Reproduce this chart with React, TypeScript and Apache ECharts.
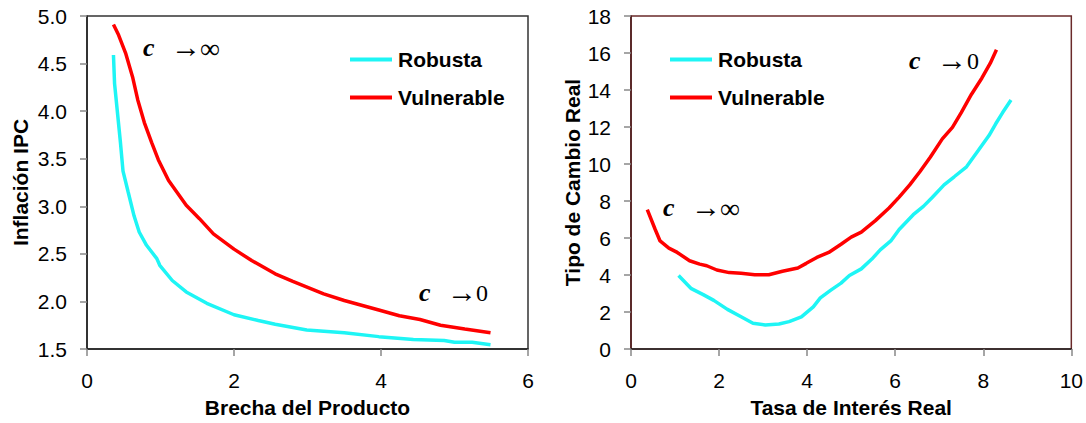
import React, { useEffect, useRef } from "react";
import * as echarts from "echarts";

// Left panel: Brecha del Producto (x) vs Inflación IPC (y)
const leftRobusta: [number, number][] = [
  [0.36, 4.59], [0.375, 4.29], [0.455, 3.67], [0.49, 3.37], [0.56, 3.15], [0.64, 2.9],
  [0.71, 2.73], [0.81, 2.59], [0.95, 2.45], [0.99, 2.38], [1.16, 2.22], [1.35, 2.1],
  [1.63, 1.98], [2.0, 1.86], [2.33, 1.8], [2.56, 1.76], [2.99, 1.7], [3.5, 1.67],
  [3.97, 1.63], [4.44, 1.6], [4.86, 1.59], [5.0, 1.57], [5.24, 1.57], [5.49, 1.545],
];
const leftVulnerable: [number, number][] = [
  [0.36, 4.91], [0.43, 4.8], [0.525, 4.61], [0.62, 4.36], [0.69, 4.12], [0.78, 3.88],
  [0.88, 3.67], [0.97, 3.49], [1.11, 3.27], [1.35, 3.01], [1.53, 2.87], [1.72, 2.71],
  [2.0, 2.55], [2.24, 2.43], [2.56, 2.29], [2.8, 2.21], [3.22, 2.08], [3.5, 2.01],
  [3.97, 1.91], [4.25, 1.85], [4.53, 1.81], [4.81, 1.75], [5.14, 1.71], [5.49, 1.67],
];

// Right panel: Tasa de Interés Real (x) vs Tipo de Cambio Real (y)
const rightRobusta: [number, number][] = [
  [1.08, 3.97], [1.37, 3.26], [1.64, 2.94], [1.88, 2.63], [2.19, 2.14], [2.5, 1.74],
  [2.77, 1.39], [3.05, 1.3], [3.36, 1.35], [3.59, 1.48], [3.87, 1.74], [4.14, 2.28],
  [4.3, 2.76], [4.53, 3.17], [4.77, 3.56], [4.96, 3.97], [5.23, 4.33], [5.47, 4.86],
  [5.66, 5.36], [5.9, 5.84], [6.09, 6.46], [6.41, 7.26], [6.64, 7.71], [6.84, 8.19],
  [7.11, 8.87], [7.34, 9.31], [7.62, 9.85], [7.89, 10.74], [8.13, 11.54], [8.28, 12.16],
  [8.44, 12.78], [8.63, 13.46],
];
const rightVulnerable: [number, number][] = [
  [0.37, 7.53], [0.55, 6.46], [0.66, 5.84], [0.86, 5.45], [1.05, 5.22], [1.33, 4.77],
  [1.56, 4.59], [1.72, 4.5], [1.95, 4.27], [2.23, 4.13], [2.5, 4.09], [2.81, 4.01],
  [3.13, 4.01], [3.44, 4.2], [3.79, 4.38], [3.98, 4.63], [4.22, 4.95], [4.49, 5.22],
  [4.77, 5.66], [5.0, 6.05], [5.23, 6.32], [5.55, 6.94], [5.86, 7.62], [6.09, 8.21],
  [6.33, 8.87], [6.56, 9.58], [6.8, 10.38], [7.07, 11.36], [7.3, 11.98], [7.5, 12.78],
  [7.73, 13.76], [7.97, 14.65], [8.16, 15.45], [8.3, 16.17],
];

const seriesNames = ["Robusta", "Vulnerable"];
const seriesColors = ["#1EF5F5", "#FF0000"];
const axisTitles = {
  leftX: "Brecha del Producto",
  leftY: "Inflación IPC",
  rightX: "Tasa de Interés Real",
  rightY: "Tipo de Cambio Real",
};

const SANS = "Arial, 'Liberation Sans', Helvetica, sans-serif";
const SERIF = "'Liberation Serif', 'Times New Roman', 'DejaVu Serif', serif";

function annotation(x: number, y: number, target: string, arrowX: number, symX: number) {
  return [
    {
      type: "text",
      x,
      y,
      style: {
        text: "c",
        font: `italic bold 26px ${SERIF}`,
        fill: "#000",
        verticalAlign: "middle",
        align: "left",
      },
    },
    {
      type: "text",
      x: arrowX,
      y: y - 1,
      style: {
        text: "→",
        font: `30px ${SERIF}`,
        fill: "#000",
        verticalAlign: "middle",
        align: "left",
      },
    },
    {
      type: "text",
      x: symX,
      y: y + 1,
      style: {
        text: target,
        font: target === "∞" ? `28px ${SERIF}` : `24px ${SERIF}`,
        fill: "#000",
        verticalAlign: "middle",
        align: "left",
      },
    },
  ];
}

export default function App() {
  const ref = useRef<HTMLDivElement>(null);

  useEffect(() => {
    if (!ref.current) return;
    const chart = echarts.init(ref.current, undefined, { renderer: "svg" });

    const axisLabel = { fontSize: 21, color: "#000", fontFamily: SANS };
    const nameStyle = { fontSize: 21, fontWeight: "bold" as const, color: "#000", fontFamily: SANS };
    const tick = { show: true, inside: false, length: 7, lineStyle: { color: "#888", width: 1.5 } };

    const mkLegend = (left: number) => ({
      data: seriesNames,
      orient: "vertical" as const,
      left,
      top: 44,
      itemWidth: 42,
      itemHeight: 4,
      itemGap: 17,
      icon: "rect",
      textStyle: { fontSize: 21, fontWeight: "bold" as const, color: "#000", fontFamily: SANS, padding: [0, 0, 0, 1] },
      selectedMode: false,
    });

    chart.setOption({
      animation: false,
      backgroundColor: "#fff",
      grid: [
        { left: 87, top: 16, width: 441, height: 336, show: true, borderColor: "#333", borderWidth: 1.5, backgroundColor: "transparent" },
        { left: 631, top: 16, width: 441, height: 336, show: true, borderColor: "#6a2a2a", borderWidth: 1.5, backgroundColor: "transparent" },
      ],
      legend: [mkLegend(345), mkLegend(665)],
      xAxis: [
        {
          type: "value", gridIndex: 0, min: 0, max: 6, interval: 2,
          name: axisTitles.leftX, nameLocation: "middle", nameGap: 48, nameTextStyle: nameStyle,
          axisLine: { show: true, lineStyle: { color: "#222", width: 1.5 } },
          axisTick: tick, axisLabel: { ...axisLabel, margin: 21 }, splitLine: { show: false },
        },
        {
          type: "value", gridIndex: 1, min: 0, max: 10, interval: 2,
          name: axisTitles.rightX, nameLocation: "middle", nameGap: 48, nameTextStyle: nameStyle,
          axisLine: { show: true, lineStyle: { color: "#222", width: 1.5 } },
          axisTick: tick, axisLabel: { ...axisLabel, margin: 21 }, splitLine: { show: false },
        },
      ],
      yAxis: [
        {
          type: "value", gridIndex: 0, min: 1.5, max: 5.0, interval: 0.5,
          name: axisTitles.leftY, nameLocation: "middle", nameGap: 56, nameRotate: 90, nameTextStyle: nameStyle,
          axisLine: { show: true, lineStyle: { color: "#222", width: 1.5 } },
          axisTick: tick,
          axisLabel: { ...axisLabel, margin: 20, formatter: (v: number) => v.toFixed(1) },
          splitLine: { show: false },
        },
        {
          type: "value", gridIndex: 1, min: 0, max: 18, interval: 2,
          name: axisTitles.rightY, nameLocation: "middle", nameGap: 48, nameRotate: 90, nameTextStyle: nameStyle,
          axisLine: { show: true, lineStyle: { color: "#4a1a1a", width: 1.5 } },
          axisTick: tick, axisLabel: { ...axisLabel, margin: 20 }, splitLine: { show: false },
        },
      ],
      series: [
        { name: seriesNames[0], type: "line", xAxisIndex: 0, yAxisIndex: 0, data: leftRobusta, showSymbol: false, color: seriesColors[0], lineStyle: { width: 3.5 } },
        { name: seriesNames[1], type: "line", xAxisIndex: 0, yAxisIndex: 0, data: leftVulnerable, showSymbol: false, color: seriesColors[1], lineStyle: { width: 3.5 } },
        { name: seriesNames[0], type: "line", xAxisIndex: 1, yAxisIndex: 1, data: rightRobusta, showSymbol: false, color: seriesColors[0], lineStyle: { width: 3.5 } },
        { name: seriesNames[1], type: "line", xAxisIndex: 1, yAxisIndex: 1, data: rightVulnerable, showSymbol: false, color: seriesColors[1], lineStyle: { width: 3.5 } },
      ],
      graphic: [
        ...annotation(143, 47, "∞", 171, 200),
        ...annotation(419, 292, "0", 447, 476),
        ...annotation(909, 60, "0", 937, 967),
        ...annotation(663, 207, "∞", 691, 720),
      ],
    });

    return () => chart.dispose();
  }, []);

  return (
    <div
      ref={ref}
      style={{ position: "fixed", left: 0, top: 0, width: 1086, height: 423, background: "#fff" }}
    />
  );
}
